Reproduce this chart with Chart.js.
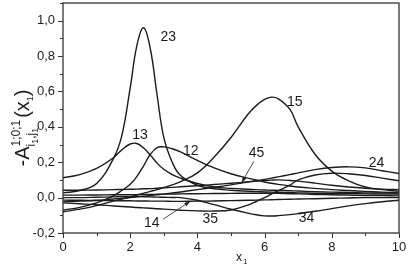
<!DOCTYPE html>
<html>
<head>
<meta charset="utf-8">
<script src="https://cdn.jsdelivr.net/npm/chart.js@4.4.1/dist/chart.umd.min.js"></script>
<style>
  html, body { margin: 0; padding: 0; background: #fff; }
</style>
</head>
<body>
<canvas id="c" width="407" height="266"></canvas>
<script>
// ── data ─────────────────────────────────────────────────────────────────────
const xs = [0, 0.5, 1, 1.5, 1.75, 2, 2.2, 2.4, 2.6, 2.8, 3, 3.25, 3.5, 4, 4.5, 5, 5.5, 5.75, 6, 6.2, 6.4, 6.75, 7, 7.5, 8, 8.5, 9, 9.5, 10];

const y23 = [0.027, 0.04, 0.08, 0.22, 0.35, 0.62, 0.86, 0.96, 0.84, 0.58, 0.34, 0.2, 0.125, 0.07, 0.05, 0.042, 0.036, 0.034, 0.032, 0.031, 0.03, 0.028, 0.027, 0.025, 0.024, 0.022, 0.021, 0.02, 0.02];
const y13 = [0.112, 0.13, 0.165, 0.225, 0.27, 0.303, 0.306, 0.28, 0.24, 0.195, 0.16, 0.13, 0.11, 0.08, 0.06, 0.052, 0.047, 0.045, 0.043, 0.042, 0.041, 0.039, 0.037, 0.034, 0.031, 0.029, 0.027, 0.026, 0.025];
const y12 = [-0.07, -0.055, -0.03, 0.01, 0.04, 0.075, 0.12, 0.18, 0.245, 0.283, 0.287, 0.276, 0.258, 0.21, 0.168, 0.135, 0.11, 0.1, 0.088, 0.081, 0.075, 0.066, 0.06, 0.052, 0.045, 0.04, 0.035, 0.031, 0.027];
const y15 = [-0.08, -0.065, -0.045, -0.02, -0.008, 0.005, 0.015, 0.025, 0.035, 0.045, 0.057, 0.072, 0.09, 0.14, 0.23, 0.34, 0.47, 0.52, 0.555, 0.568, 0.56, 0.5, 0.4, 0.245, 0.15, 0.095, 0.06, 0.045, 0.035];
const y24 = [-0.024, -0.02, -0.015, -0.008, -0.005, 0.0, 0.004, 0.008, 0.012, 0.016, 0.02, 0.026, 0.032, 0.045, 0.058, 0.072, 0.088, 0.095, 0.103, 0.11, 0.117, 0.13, 0.14, 0.158, 0.17, 0.174, 0.168, 0.152, 0.136];
const y35 = [-0.03, -0.035, -0.04, -0.047, -0.05, -0.053, -0.056, -0.058, -0.06, -0.063, -0.065, -0.068, -0.071, -0.075, -0.076, -0.07, -0.042, -0.022, 0.0, 0.02, 0.038, 0.07, 0.1, 0.128, 0.138, 0.135, 0.125, 0.11, 0.095];
const y34 = [0.0, 0.0, 0.002, 0.004, 0.005, 0.006, 0.006, 0.005, 0.004, 0.003, 0.002, 0.001, 0.0, -0.015, -0.04, -0.066, -0.088, -0.097, -0.103, -0.104, -0.102, -0.096, -0.09, -0.077, -0.062, -0.047, -0.034, -0.023, -0.015];
const y45 = [0.042, 0.042, 0.043, 0.045, 0.046, 0.047, 0.048, 0.05, 0.051, 0.053, 0.055, 0.058, 0.061, 0.067, 0.074, 0.081, 0.089, 0.093, 0.097, 0.099, 0.1, 0.097, 0.093, 0.082, 0.07, 0.06, 0.053, 0.048, 0.045];
const y14 = [-0.014, -0.015, -0.016, -0.017, -0.018, -0.018, -0.019, -0.019, -0.02, -0.02, -0.02, -0.021, -0.021, -0.02, -0.019, -0.017, -0.015, -0.014, -0.013, -0.012, -0.011, -0.009, -0.008, -0.006, -0.004, -0.002, 0.0, 0.0, 0.0];
const y25 = [0.014, 0.014, 0.015, 0.016, 0.016, 0.017, 0.017, 0.018, 0.018, 0.019, 0.02, 0.02, 0.021, 0.022, 0.023, 0.024, 0.025, 0.025, 0.025, 0.024, 0.024, 0.022, 0.021, 0.018, 0.016, 0.014, 0.012, 0.011, 0.01];

const seriesNames = ['23', '13', '12', '15', '24', '35', '34', '45', '14', '25'];
const seriesValues = [y23, y13, y12, y15, y24, y35, y34, y45, y14, y25];

const xTickValues = [0, 2, 4, 6, 8, 10];
const yTickValues = [-0.2, 0, 0.2, 0.4, 0.6, 0.8, 1.0];

// curve labels (data coords) and the two pointer arrows
const notes = [
    { text: '23', x: 3.13, y: 0.905 },
    { text: '15', x: 6.9,  y: 0.54 },
    { text: '13', x: 2.29, y: 0.352 },
    { text: '12', x: 3.8,  y: 0.264 },
    { text: '45', x: 5.76, y: 0.252 },
    { text: '24', x: 9.33, y: 0.196 },
    { text: '14', x: 2.64, y: -0.142 },
    { text: '35', x: 4.38, y: -0.123 },
    { text: '34', x: 7.25, y: -0.117 },
];
const arrows = [
    { from: [5.68, 0.205], to: [5.32, 0.085] },
    { from: [2.98, -0.122], to: [3.78, -0.022] },
];

const INK = '#1c1c1c';
const FONT = "'Liberation Sans', Arial, sans-serif";

// ── frame, ticks, labels, axis titles ───────────────────────────────────────
const decor = {
    id: 'decor',
    afterDraw(chart) {
        const { ctx, chartArea: a, scales: { x, y } } = chart;
        ctx.save();
        ctx.strokeStyle = '#333';
        ctx.lineWidth = 1.3;
        ctx.strokeRect(a.left, a.top, a.right - a.left, a.bottom - a.top);

        ctx.lineWidth = 1;
        ctx.beginPath();
        for (let v = 0; v <= 10; v += 1) {
            const p = Math.round(x.getPixelForValue(v)) + 0.5;
            const len = v % 2 === 0 ? 5 : 3;
            ctx.moveTo(p, a.bottom); ctx.lineTo(p, a.bottom + len);
        }
        for (let i = -2; i <= 11; i++) {
            const p = Math.round(y.getPixelForValue(i / 10)) + 0.5;
            const len = i % 2 === 0 ? 5 : 3;
            ctx.moveTo(a.left, p); ctx.lineTo(a.left - len, p);
        }
        ctx.stroke();

        // curve labels
        ctx.fillStyle = INK;
        ctx.font = '14px ' + FONT;
        ctx.textAlign = 'center';
        ctx.textBaseline = 'middle';
        notes.forEach(n => ctx.fillText(n.text, x.getPixelForValue(n.x), y.getPixelForValue(n.y)));

        // arrows
        ctx.strokeStyle = INK;
        ctx.lineWidth = 0.8;
        arrows.forEach(ar => {
            const x0 = x.getPixelForValue(ar.from[0]), y0 = y.getPixelForValue(ar.from[1]);
            const x1 = x.getPixelForValue(ar.to[0]),   y1 = y.getPixelForValue(ar.to[1]);
            const ang = Math.atan2(y1 - y0, x1 - x0);
            ctx.beginPath(); ctx.moveTo(x0, y0); ctx.lineTo(x1, y1); ctx.stroke();
            ctx.beginPath();
            ctx.moveTo(x1, y1);
            ctx.lineTo(x1 - 6 * Math.cos(ang - 0.35), y1 - 6 * Math.sin(ang - 0.35));
            ctx.lineTo(x1 - 6 * Math.cos(ang + 0.35), y1 - 6 * Math.sin(ang + 0.35));
            ctx.closePath(); ctx.fill();
        });

        // x title: x with subscript 1
        ctx.textAlign = 'left';
        ctx.textBaseline = 'alphabetic';
        ctx.font = '12px ' + FONT;
        ctx.fillText('x', 236, 261);
        ctx.font = '8px ' + FONT;
        ctx.fillText('1', 243, 264);

        // y title: -A^{1;0;1}_{i1,j1}(x1), rotated
        ctx.translate(29, 128);
        ctx.rotate(-Math.PI / 2);
        const big = '20px ' + FONT, small = '12px ' + FONT, tiny = '9px ' + FONT;
        ctx.font = big;   const wA = ctx.measureText('-A').width;
        ctx.font = small; const wSup = ctx.measureText('1;0;1').width;
        const wi = ctx.measureText('i').width, wc = ctx.measureText(',').width, wj = ctx.measureText('j').width;
        ctx.font = tiny;  const w1 = ctx.measureText('1').width;
        const wSub = wi + w1 + wc + wj + w1;
        ctx.font = big;   const wP = ctx.measureText('(x').width, wQ = ctx.measureText(')').width;
        const total = wA + Math.max(wSup, wSub) + 2 + wP + w1 + wQ;
        let cx = -total / 2;
        ctx.font = big; ctx.fillText('-A', cx, 0); cx += wA;
        ctx.font = small; ctx.fillText('1;0;1', cx, -9);
        let sx = cx;
        ctx.fillText('i', sx, 6); sx += wi;
        ctx.font = tiny; ctx.fillText('1', sx, 9); sx += w1;
        ctx.font = small; ctx.fillText(',', sx, 6); sx += wc;
        ctx.fillText('j', sx, 6); sx += wj;
        ctx.font = tiny; ctx.fillText('1', sx, 9);
        cx += Math.max(wSup, wSub) + 2;
        ctx.font = big; ctx.fillText('(x', cx, 0); cx += wP;
        ctx.font = tiny; ctx.fillText('1', cx, 4); cx += w1;
        ctx.font = big; ctx.fillText(')', cx, 0);
        ctx.restore();
    }
};

const datasets = seriesNames.map((name, i) => ({
    label: name,
    data: xs.map((xv, k) => ({ x: xv, y: seriesValues[i][k] })),
    borderColor: INK,
    borderWidth: 1.4,
    pointRadius: 0,
    fill: false,
    tension: 0.4,
}));

new Chart(document.getElementById('c'), {
    type: 'line',
    data: { datasets },
    options: {
        responsive: false,
        animation: false,
        events: [],
        layout: { padding: { left: 0, right: 8, top: 3, bottom: 0 } },
        plugins: { legend: { display: false }, tooltip: { enabled: false } },
        scales: {
            x: {
                type: 'linear', min: 0, max: 10,
                afterBuildTicks: s => { s.ticks = xTickValues.map(v => ({ value: v })); },
                afterFit: s => { s.height = 33; s.paddingLeft = 0; s.paddingRight = 0; },
                grid: { display: false, drawTicks: false },
                border: { display: false },
                ticks: { color: INK, padding: 7, maxRotation: 0, font: { family: FONT, size: 13 } },
            },
            y: {
                type: 'linear', min: -0.2, max: 1.1,
                afterBuildTicks: s => { s.ticks = yTickValues.map(v => ({ value: v })); },
                afterFit: s => { s.width = 63; s.paddingTop = 0; s.paddingBottom = 0; },
                grid: { display: false, drawTicks: false },
                border: { display: false },
                ticks: {
                    color: INK, padding: 8, font: { family: FONT, size: 13 },
                    callback: v => v.toFixed(1).replace('.', ','),
                },
            },
        },
    },
    plugins: [decor],
});
</script>
</body>
</html>
